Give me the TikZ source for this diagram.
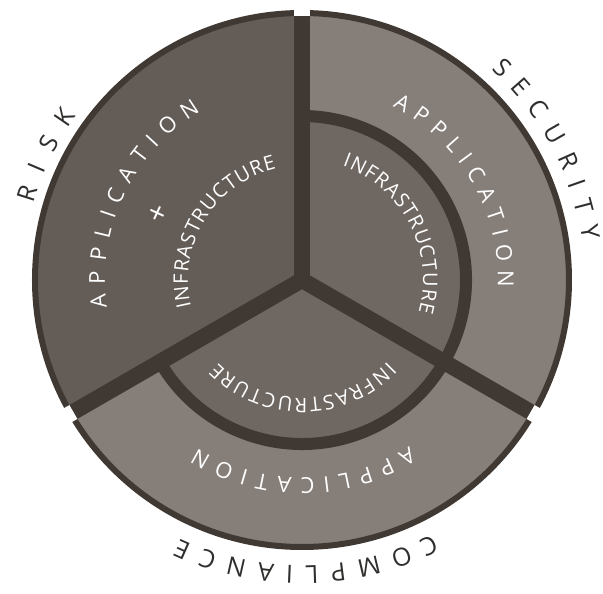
\documentclass[tikz,border=0pt]{standalone}
\usepackage{fontspec}
\setmainfont{Open Sans}
\usetikzlibrary{decorations.text}

\definecolor{riskfill}{RGB}{99,92,87}
\definecolor{innerfill}{RGB}{111,103,98}
\definecolor{outerfill}{RGB}{134,126,121}
\definecolor{rimline}{RGB}{64,56,50}
\definecolor{labelgray}{RGB}{48,46,44}

\newcommand\appfont{\fontsize{22}{22}\selectfont}
\newcommand\infrafont{\fontsize{20}{20}\selectfont}
\newcommand\outerfont{\fontsize{25}{25}\selectfont}

\tikzset{
  rim/.style={draw=rimline, line width=6pt},
  ringline/.style={draw=rimline, line width=12pt},
  spoke/.style={draw=rimline, line width=16pt},
  spokegap/.style={draw=white, line width=16pt},
  % text set along a clockwise arc, spread to fill it
  arctext/.style args={#1/#2}{decorate, decoration={text along path,
      text={|#2|#1}, text align=fit to path, text color=white}},
  outertext/.style={decorate, decoration={text along path,
      text={|\outerfont|#1}, text align=fit to path, text color=labelgray}}
}

\begin{document}
\begin{tikzpicture}[x=1pt,y=1pt]
\useasboundingbox (-302,-314) rectangle (301,280);

% sector fills
\fill[riskfill] (0,0) -- (90:267) arc[start angle=90, end angle=210, radius=267] -- cycle;
\fill[outerfill] (0,0) -- (210:267) arc[start angle=210, end angle=450, radius=267] -- cycle;
\fill[innerfill] (0,0) -- (-150:164) arc[start angle=-150, end angle=90, radius=164] -- cycle;

% outer rim and the ring between infrastructure and application
\draw[rim] (0,0) circle[radius=267];
\draw[ringline] (-150:164) arc[start angle=-150, end angle=90, radius=164];

% spokes, with a white notch cut through the rim
\foreach \a in {90,210,330} {
  \draw[spoke] (0,0) -- (\a:264);
  \draw[spokegap] (\a:264) -- (\a:276);
}
\fill[rimline] (0,0) circle[radius=8];

% risk sector
\path[arctext={APPLICATION/\appfont}] (188:197) arc[start angle=188, end angle=121, radius=197];
\node[text=white, font=\fontsize{30}{30}\selectfont, rotate=65] (plus) at (155.3:157) {+};
\path[arctext={INFRASTRUCTURE/\infrafont}] (193.5:114) arc[start angle=193.5, end angle=103, radius=114];

% security sector
\path[arctext={APPLICATION/\appfont}] (62.5:196) arc[start angle=62.5, end angle=-2.2, radius=196];
\path[arctext={INFRASTRUCTURE/\infrafont}] (70.5:121) arc[start angle=70.5, end angle=-15.5, radius=121];

% compliance sector
\path[arctext={APPLICATION/\appfont}] (-57.2:198) arc[start angle=-57.2, end angle=-122, radius=198];
\path[arctext={INFRASTRUCTURE/\infrafont}] (-43.5:118) arc[start angle=-43.5, end angle=-135.5, radius=118];

% outer labels
\path[outertext=RISK] (164:279) arc[start angle=164, end angle=144, radius=279];
\path[outertext=SECURITY] (48:283) arc[start angle=48, end angle=8, radius=283];
\path[outertext=COMPLIANCE] (-62.8:286) arc[start angle=-62.8, end angle=-115.4, radius=286];
\end{tikzpicture}
\end{document}
